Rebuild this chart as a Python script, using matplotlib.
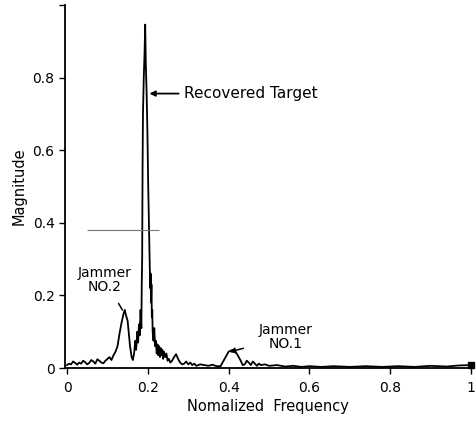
import matplotlib
matplotlib.use("Agg")
import matplotlib.pyplot as plt

freq = [0.000, 0.005, 0.010, 0.015, 0.020, 0.025, 0.030, 0.035, 0.040, 0.045,
        0.050, 0.055, 0.060, 0.065, 0.070, 0.075, 0.080, 0.085, 0.090, 0.095,
        0.100, 0.105, 0.110, 0.115, 0.120, 0.125, 0.130, 0.135, 0.140, 0.143,
        0.146, 0.150, 0.153, 0.156, 0.160, 0.163, 0.166, 0.169, 0.171, 0.174,
        0.176, 0.178, 0.180, 0.182, 0.184, 0.185, 0.186, 0.187, 0.188, 0.190,
        0.192, 0.1935, 0.195, 0.197, 0.199, 0.201, 0.203, 0.205, 0.206, 0.207,
        0.208, 0.209, 0.210, 0.211, 0.212, 0.214, 0.216, 0.218, 0.220, 0.222,
        0.224, 0.226, 0.228, 0.230, 0.232, 0.234, 0.236, 0.238, 0.240, 0.243,
        0.246, 0.249, 0.252, 0.256, 0.260, 0.265, 0.270, 0.275, 0.280, 0.285,
        0.290, 0.295, 0.300, 0.305, 0.310, 0.315, 0.320, 0.330, 0.340, 0.350,
        0.360, 0.370, 0.380, 0.390, 0.400, 0.410, 0.420, 0.430, 0.435, 0.440,
        0.445, 0.450, 0.455, 0.460, 0.465, 0.470, 0.475, 0.480, 0.490, 0.500,
        0.520, 0.540, 0.560, 0.580, 0.600, 0.630, 0.660, 0.700, 0.740, 0.780,
        0.820, 0.860, 0.900, 0.940, 0.970, 1.000]
magnitude = [0.008, 0.012, 0.010, 0.018, 0.014, 0.009, 0.015, 0.012, 0.020, 0.016,
             0.010, 0.014, 0.022, 0.018, 0.012, 0.024, 0.020, 0.015, 0.013, 0.020,
             0.025, 0.030, 0.022, 0.035, 0.045, 0.060, 0.095, 0.125, 0.150, 0.160,
             0.145, 0.130, 0.095, 0.060, 0.030, 0.022, 0.040, 0.075, 0.050, 0.100,
             0.070, 0.120, 0.090, 0.160, 0.110, 0.230, 0.300, 0.550, 0.700, 0.800,
             0.870, 0.946, 0.840, 0.760, 0.650, 0.500, 0.380, 0.270, 0.220, 0.260,
             0.180, 0.230, 0.140, 0.160, 0.100, 0.075, 0.110, 0.060, 0.075, 0.040,
             0.065, 0.035, 0.060, 0.030, 0.055, 0.035, 0.050, 0.025, 0.045, 0.030,
             0.040, 0.020, 0.025, 0.015, 0.020, 0.030, 0.038, 0.025, 0.015, 0.010,
             0.012, 0.018, 0.010, 0.015, 0.008, 0.012, 0.006, 0.010, 0.008, 0.006,
             0.009, 0.005, 0.005, 0.025, 0.045, 0.050, 0.040, 0.020, 0.008, 0.010,
             0.020, 0.015, 0.008, 0.018, 0.012, 0.006, 0.012, 0.008, 0.010, 0.006,
             0.008, 0.004, 0.006, 0.003, 0.005, 0.003, 0.005, 0.003, 0.005, 0.003,
             0.005, 0.003, 0.006, 0.004, 0.007, 0.008]

x_ticks = [0, 0.2, 0.4, 0.6, 0.8, 1.0]
x_tick_labels = ["0", "0.2", "0.4", "0.6", "0.8", "1"]
y_ticks = [0, 0.2, 0.4, 0.6, 0.8, 1.0]
y_tick_labels = ["0", "0.2", "0.4", "0.6", "0.8", ""]

ref_level = 0.381
ref_span = (0.049, 0.227)

fig = plt.figure(figsize=(4.77, 4.21), dpi=100)
ax = fig.add_axes([65 / 477, 53 / 421, 406 / 477, 363 / 421])
ax.plot(freq, magnitude, color="black", lw=1.3)
ax.plot([freq[-1]], [magnitude[-1]], marker="s", color="black", ms=5, clip_on=False)
ax.hlines(ref_level, ref_span[0], ref_span[1], color="#777777", lw=0.8)

ax.set_xlim(-0.005, 1.0)
ax.set_ylim(0, 1.0)
for s in ["top", "right"]:
    ax.spines[s].set_visible(False)
ax.spines["left"].set_linewidth(1.3)
ax.spines["bottom"].set_linewidth(1.3)
ax.set_xticks(x_ticks)
ax.set_xticklabels(x_tick_labels)
ax.set_yticks(y_ticks)
ax.set_yticklabels(y_tick_labels)
ax.tick_params(direction="out", length=4, width=1.0, labelsize=10)
ax.tick_params(axis="x", pad=5)

ax.set_xlabel("Nomalized  Frequency", fontsize=10.5, labelpad=3)
ax.set_ylabel("Magnitude", fontsize=10.5, labelpad=4)

ax.annotate("Recovered Target", xy=(0.204, 0.756), xytext=(0.29, 0.756),
            fontsize=11, va="center", ha="left",
            arrowprops=dict(arrowstyle="-|>", color="black", lw=1.3, shrinkA=2, shrinkB=0,
                            mutation_scale=8))
ax.annotate("Jammer\nNO.2", xy=(0.137, 0.16), xytext=(0.093, 0.243),
            fontsize=10, va="center", ha="center", linespacing=0.95,
            arrowprops=dict(arrowstyle="-", color="black", lw=1.1, shrinkA=6, shrinkB=0))
ax.annotate("Jammer\nNO.1", xy=(0.402, 0.044), xytext=(0.54, 0.085),
            fontsize=10, va="center", ha="center", linespacing=0.95,
            arrowprops=dict(arrowstyle="-|>", color="black", lw=1.1, shrinkA=9, shrinkB=0,
                            mutation_scale=8))

fig.savefig("out.png", dpi=100)
